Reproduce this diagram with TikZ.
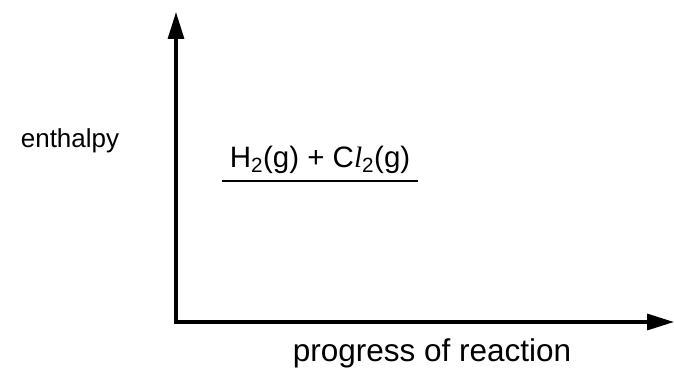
\documentclass[tikz,border=0pt]{standalone}
\usepackage{fontspec}
\setmainfont{Liberation Sans}
\newfontfamily\serifit[Scale=1.0]{Liberation Serif}
\usetikzlibrary{arrows.meta}
\begin{document}
\begin{tikzpicture}[x=1pt,y=-1pt,
  axis/.style={line width=3.2pt,-{Triangle[length=27pt,width=16pt]}},
  lbl/.style={inner sep=0pt,anchor=base}]
\useasboundingbox (0,0) rectangle (674,369);
\coordinate (O) at (176,322);
\coordinate (Ytip) at (176,12);
\coordinate (Xtip) at (674,322);
\draw[axis] ([yshift=1.6pt]O) -- (Ytip);
\draw[axis] ([xshift=-1.6pt]O) -- (Xtip);
\node[lbl,font=\fontsize{26}{30}\selectfont] (enth) at (70,147) {enthalpy};
\node[lbl,font=\fontsize{29.5}{33}\selectfont] (react) at (320,167) {H\textsubscript{2}(g) + C{\serifit\itshape l}\textsubscript{2}(g)};
\coordinate (L1) at (222,181);
\coordinate (L2) at (418,181);
\draw[line width=2.6pt] (L1) -- (L2);
\node[lbl,font=\fontsize{31.5}{35}\selectfont] (prog) at (432,361) {progress of reaction};
\end{tikzpicture}
\end{document}
